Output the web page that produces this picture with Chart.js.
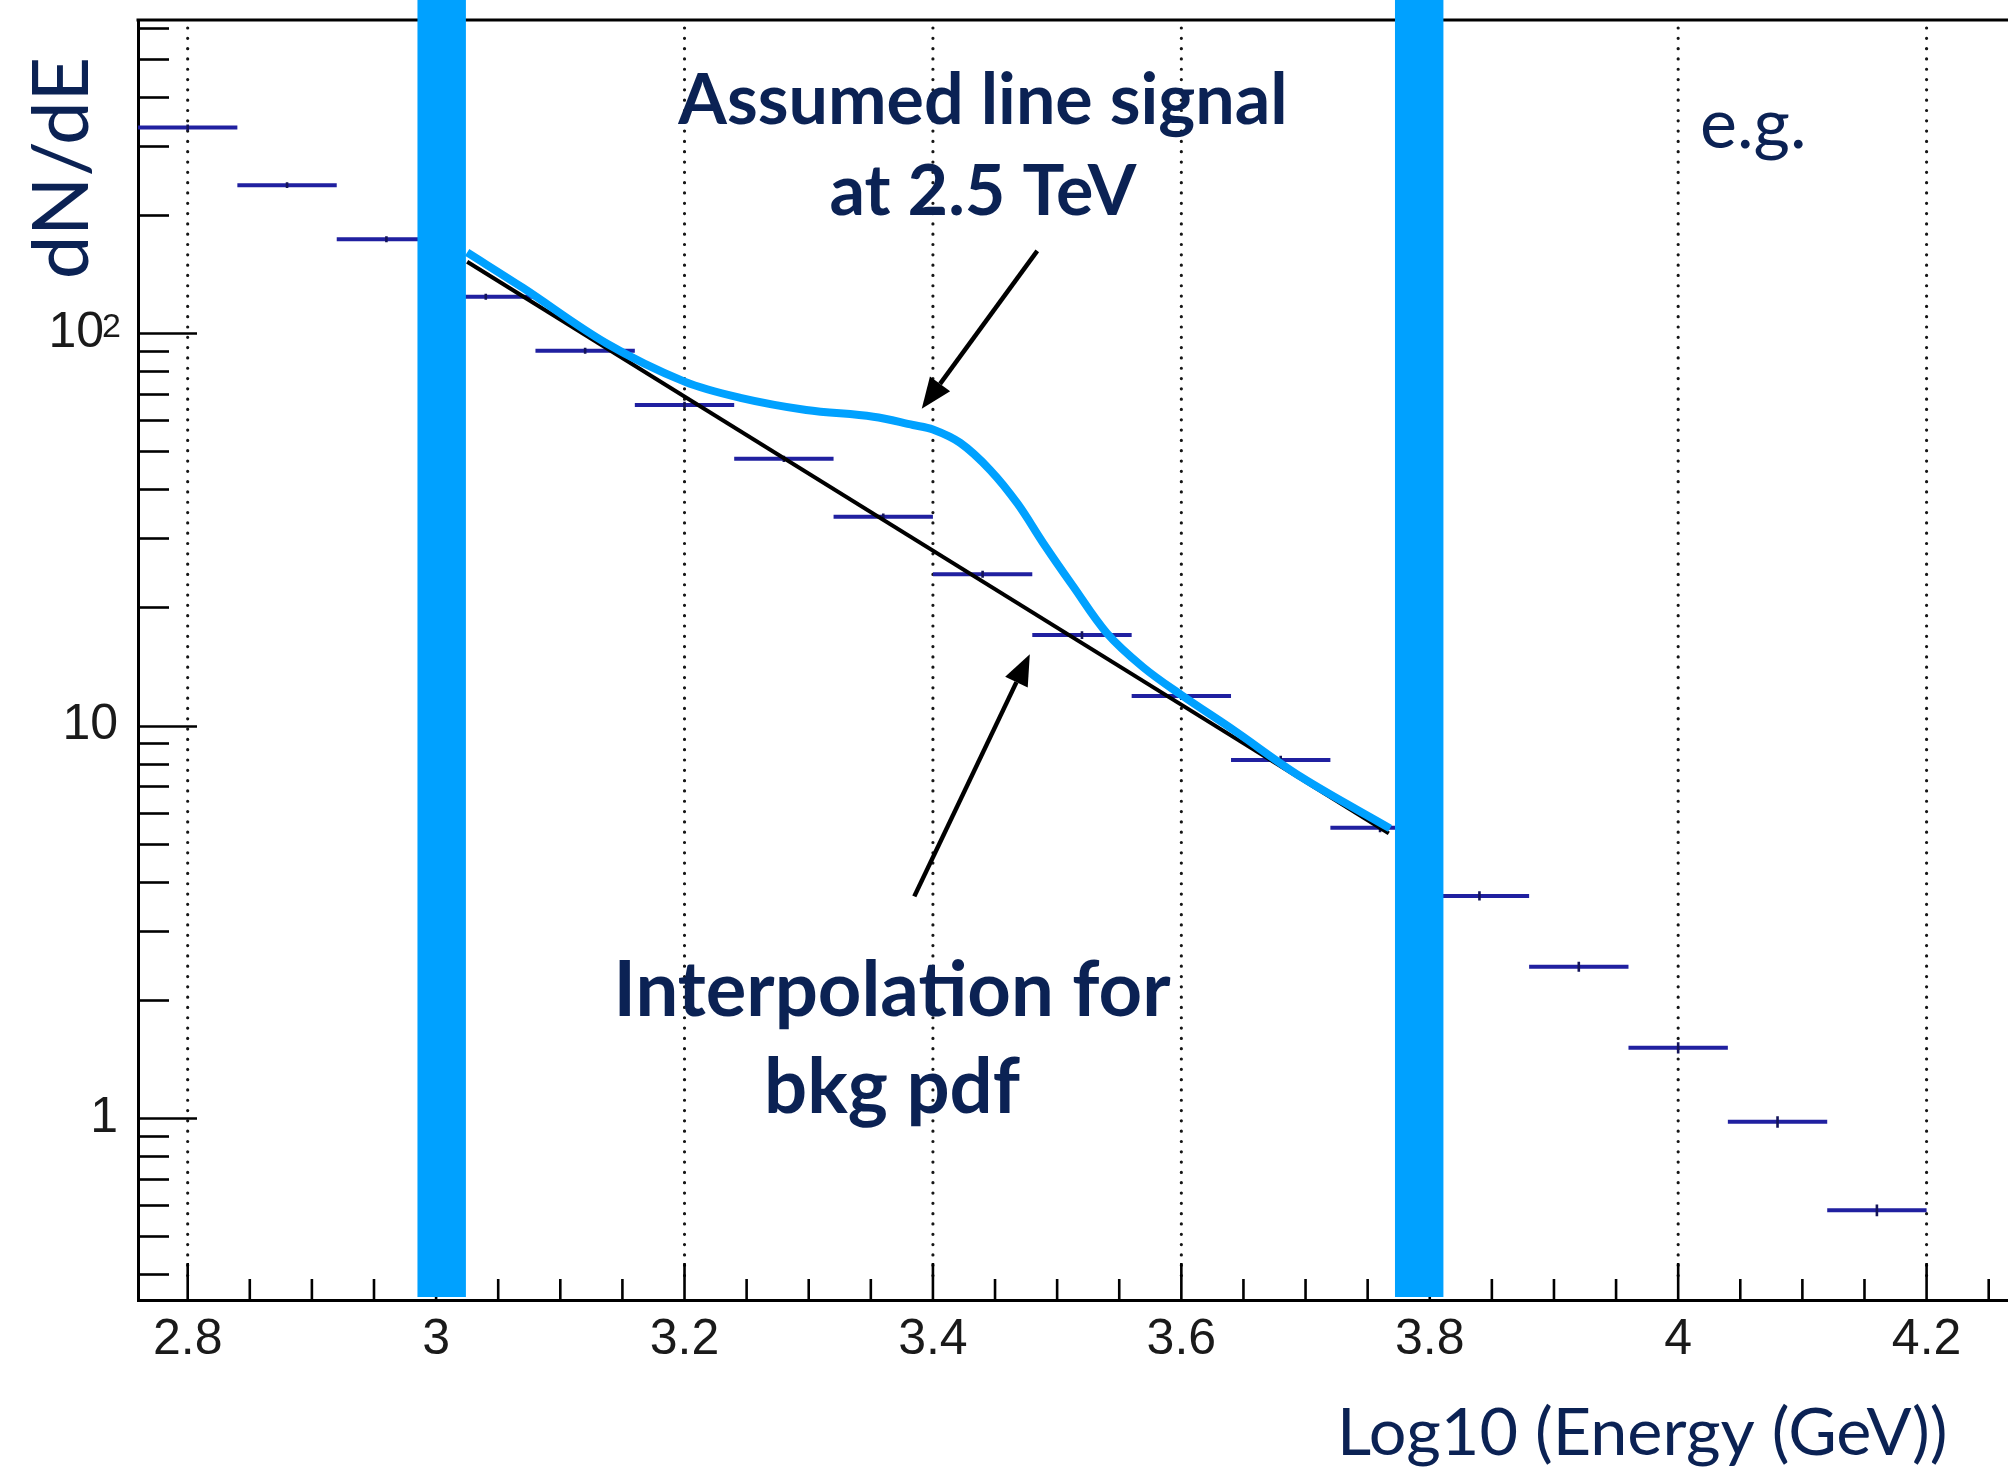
<!DOCTYPE html>
<html>
<head>
<meta charset="utf-8">
<script src="https://cdn.jsdelivr.net/npm/chart.js@4.4.1/dist/chart.umd.min.js"></script>
<style>
  html, body { margin: 0; padding: 0; background: #ffffff; overflow: hidden; }
  #wrap { width: 2240px; height: 1467px; }
</style>
</head>
<body>
<div id="wrap"><canvas id="c" width="2240" height="1467"></canvas></div>
<script>
// Measured spectrum: log10(E/GeV) bins of width 0.08
const binCenters = [2.80, 2.88, 2.96, 3.04, 3.12, 3.20, 3.28, 3.36, 3.44, 3.52, 3.60, 3.68, 3.76, 3.84, 3.92, 4.00, 4.08, 4.16];
const binCounts  = [333.8, 238.1, 173.4, 123.8, 90.2, 65.6, 47.8, 34.05, 24.3, 17.0, 11.9, 8.17, 5.49, 3.68, 2.43, 1.51, 0.978, 0.582];
const binErrors  = [6, 4, 3, 2.2, 1.6, 1.2, 0.9, 0.65, 0.5, 0.38, 0.28, 0.2, 0.14, 0.1, 0.07, 0.05, 0.033, 0.02];
const binWidth = 0.08;

// Background plus assumed line signal
const signalX = [3.025, 3.070, 3.137, 3.200, 3.245, 3.298, 3.352, 3.384, 3.400, 3.422, 3.446, 3.468, 3.489, 3.513, 3.540, 3.569, 3.600, 3.642, 3.696, 3.768];
const signalY = [160.5, 130.3, 94.2, 75.2, 68.4, 63.7, 61.2, 58.3, 56.8, 52.5, 44.8, 36.8, 29.1, 22.6, 17.2, 14.1, 11.96, 9.74, 7.41, 5.47];

// Power-law interpolation used as background pdf
const bkgX = [3.025, 3.767];
const bkgY = [152, 5.31];

// Fit window edges (log10 E)
const windowBands = [[2.985, 3.024], [3.772, 3.811]];

// Annotation arrows: [x, y] tail -> tip in data units
const arrowTails = [[3.484, 162], [3.385, 3.67]];
const arrowTips  = [[3.391, 64.1], [3.478, 15.2]];

// Axis ranges and ticks
const xRange = [2.76, 4.4];
const yRange = [0.3438, 627.5];
const xTickValues = [2.8, 3.0, 3.2, 3.4, 3.6, 3.8, 4.0, 4.2, 4.4];
const xTickLabels = ['2.8', '3', '3.2', '3.4', '3.6', '3.8', '4', '4.2', '4.4'];
const yTickValues = [1, 10, 100];
const yTickMantissa = ['1', '10', '10'];
const yTickExponent = ['', '', '2'];

const NAVY = '#0b2254';
const CYAN = '#00a1ff';
const TICK_FONT = 'Liberation Sans';

// histogram steps and error bars as broken polylines
const histPoints = [];
const errPoints = [];
binCenters.forEach((c, i) => {
  histPoints.push({ x: c - binWidth / 2, y: binCounts[i] }, { x: c + binWidth / 2, y: binCounts[i] }, { x: c, y: null });
  errPoints.push({ x: c, y: binCounts[i] - binErrors[i] }, { x: c, y: binCounts[i] + binErrors[i] }, { x: c, y: null });
});
const signalPoints = signalX.map((x, i) => ({ x, y: signalY[i] }));
const bkgPoints = bkgX.map((x, i) => ({ x, y: bkgY[i] }));

function drawArrow(ctx, x0, y0, x1, y1) {
  const ang = Math.atan2(y1 - y0, x1 - x0);
  const headLen = 31, headHalf = 12.5;
  const bx = x1 - headLen * Math.cos(ang), by = y1 - headLen * Math.sin(ang);
  ctx.beginPath();
  ctx.moveTo(x0, y0);
  ctx.lineTo(bx, by);
  ctx.stroke();
  ctx.beginPath();
  ctx.moveTo(x1, y1);
  ctx.lineTo(bx + headHalf * Math.sin(ang), by - headHalf * Math.cos(ang));
  ctx.lineTo(bx - headHalf * Math.sin(ang), by + headHalf * Math.cos(ang));
  ctx.closePath();
  ctx.fill();
}

const overlay = {
  id: 'overlay',
  beforeDatasetsDraw(chart) {
    const { ctx, chartArea: a, scales: { x } } = chart;
    ctx.save();
    // dotted vertical grid at the major x ticks
    ctx.strokeStyle = 'rgba(10,10,10,0.95)';
    ctx.lineWidth = 3.2;
    ctx.lineCap = 'round';
    ctx.setLineDash([0.01, 10.3]);
    xTickValues.forEach(v => {
      const px = x.getPixelForValue(v);
      if (px < a.left + 3 || px > a.right) return;
      ctx.beginPath();
      ctx.moveTo(px, a.top + 8);
      ctx.lineTo(px, a.bottom - 20);
      ctx.stroke();
    });
    ctx.restore();
  },
  afterDatasetsDraw(chart) {
    const { ctx, chartArea: a, scales: { x, y } } = chart;
    ctx.save();
    ctx.strokeStyle = '#000';
    ctx.lineCap = 'butt';
    ctx.setLineDash([]);
    ctx.lineWidth = 2.6;

    // inward y ticks: decades long, 2..9 short
    for (let d = -1; d <= 2; d++) {
      for (let m = 1; m <= 9; m++) {
        const v = m * Math.pow(10, d);
        if (v < y.min || v > y.max) continue;
        const py = Math.round(y.getPixelForValue(v)) + 0.5;
        const len = m === 1 ? 59 : 31;
        ctx.beginPath();
        ctx.moveTo(a.left, py);
        ctx.lineTo(a.left + len, py);
        ctx.stroke();
      }
    }
    // inward x ticks every 0.05, long at every 0.2
    for (let i = -1; i <= 40; i++) {
      const v = 2.8 + 0.05 * i;
      if (v < x.min || v > x.max) continue;
      const px = x.getPixelForValue(v);
      const len = (i % 4 === 0) ? 37 : 21;
      ctx.beginPath();
      ctx.moveTo(px, a.bottom);
      ctx.lineTo(px, a.bottom - len);
      ctx.stroke();
    }

    // exponents of the decade labels
    ctx.fillStyle = '#1a1a1a';
    ctx.font = '34px ' + TICK_FONT;
    ctx.textAlign = 'left';
    ctx.textBaseline = 'alphabetic';
    yTickValues.forEach((v, i) => {
      if (!yTickExponent[i]) return;
      const py = y.getPixelForValue(v);
      ctx.fillText(yTickExponent[i], a.left - 36, py + 4);
    });

    // top frame line
    ctx.lineWidth = 3.2;
    ctx.beginPath();
    ctx.moveTo(a.left - 1.5, a.top);
    ctx.lineTo(a.right, a.top);
    ctx.stroke();

    // fit window bands
    ctx.fillStyle = CYAN;
    windowBands.forEach(([lo, hi]) => {
      const x0 = x.getPixelForValue(lo), x1 = x.getPixelForValue(hi);
      ctx.fillRect(x0, 0, x1 - x0, a.bottom - 3);
    });

    // arrows
    ctx.strokeStyle = '#000';
    ctx.fillStyle = '#000';
    ctx.lineWidth = 4.5;
    arrowTails.forEach((t, i) => {
      const h = arrowTips[i];
      drawArrow(ctx, x.getPixelForValue(t[0]), y.getPixelForValue(t[1]),
                     x.getPixelForValue(h[0]), y.getPixelForValue(h[1]));
    });

    // annotation text
    ctx.fillStyle = NAVY;
    ctx.textBaseline = 'alphabetic';
    ctx.textAlign = 'center';
    ctx.font = 'bold 70px Lato';
    ctx.fillText('Assumed line signal', 983, 124);
    ctx.fillText('at 2.5 TeV', 983, 215);
    ctx.font = 'bold 76px Lato';
    ctx.fillText('Interpolation for', 892, 1016);
    ctx.fillText('bkg pdf', 892, 1113);

    ctx.textAlign = 'left';
    ctx.font = '70px Lato';
    ctx.fillText('e.g.', 1700, 148);

    ctx.font = '66.5px Lato';
    ctx.fillText('Log10 (Energy (GeV))', 1337, 1455);

    // y axis title
    ctx.save();
    ctx.translate(88, 168);
    ctx.rotate(-Math.PI / 2);
    ctx.textAlign = 'center';
    ctx.font = '78px Lato';
    ctx.fillText('dN/dE', 0, 0);
    ctx.restore();

    ctx.restore();
  }
};

new Chart(document.getElementById('c'), {
  type: 'scatter',
  data: {
    datasets: [
      { data: signalPoints, showLine: true, borderColor: CYAN, borderWidth: 8,
        pointRadius: 0, tension: 0.35, borderCapStyle: 'butt', order: 0 },
      { data: bkgPoints, showLine: true, borderColor: '#000', borderWidth: 4,
        pointRadius: 0, order: 1 },
      { data: errPoints, showLine: true, borderColor: '#14145a', borderWidth: 2.6,
        pointRadius: 0, spanGaps: false, order: 2 },
      { data: histPoints, showLine: true, borderColor: '#2020a0', borderWidth: 4,
        pointRadius: 0, spanGaps: false, order: 3 }
    ]
  },
  options: {
    responsive: false,
    animation: false,
    devicePixelRatio: 1,
    layout: { padding: { left: 0, top: 20, right: 65, bottom: 0 } },
    plugins: { legend: { display: false }, tooltip: { enabled: false } },
    scales: {
      x: {
        type: 'linear',
        bounds: 'data',
        min: xRange[0],
        max: xRange[1],
        afterBuildTicks: s => {
          s.ticks = xTickValues.map(v => ({ value: v }));
          s.min = xRange[0]; s.max = xRange[1];
        },
        afterFit: s => { s.height = 167; s.paddingLeft = 0; s.paddingRight = 0; },
        grid: { display: false, drawTicks: false },
        border: { display: true, color: '#000', width: 3 },
        ticks: {
          autoSkip: false,
          maxRotation: 0,
          padding: 10,
          color: '#1a1a1a',
          font: { family: TICK_FONT, size: 50 },
          callback: (v, i) => xTickLabels[i]
        }
      },
      y: {
        type: 'logarithmic',
        bounds: 'data',
        min: yRange[0],
        max: yRange[1],
        afterBuildTicks: s => {
          s.ticks = yTickValues.map(v => ({ value: v }));
          s.min = yRange[0]; s.max = yRange[1];
        },
        afterFit: s => { s.width = 138; s.paddingTop = 0; s.paddingBottom = 0; },
        grid: { display: false, drawTicks: false },
        border: { display: true, color: '#000', width: 3 },
        ticks: {
          autoSkip: false,
          padding: 20,
          color: '#1a1a1a',
          font: { family: TICK_FONT, size: 50 },
          // room is left after a mantissa that carries an exponent
          callback: (v, i) => yTickMantissa[i] + (yTickExponent[i] ? '\u2008' : '')
        }
      }
    }
  },
  plugins: [overlay]
});
</script>
</body>
</html>
